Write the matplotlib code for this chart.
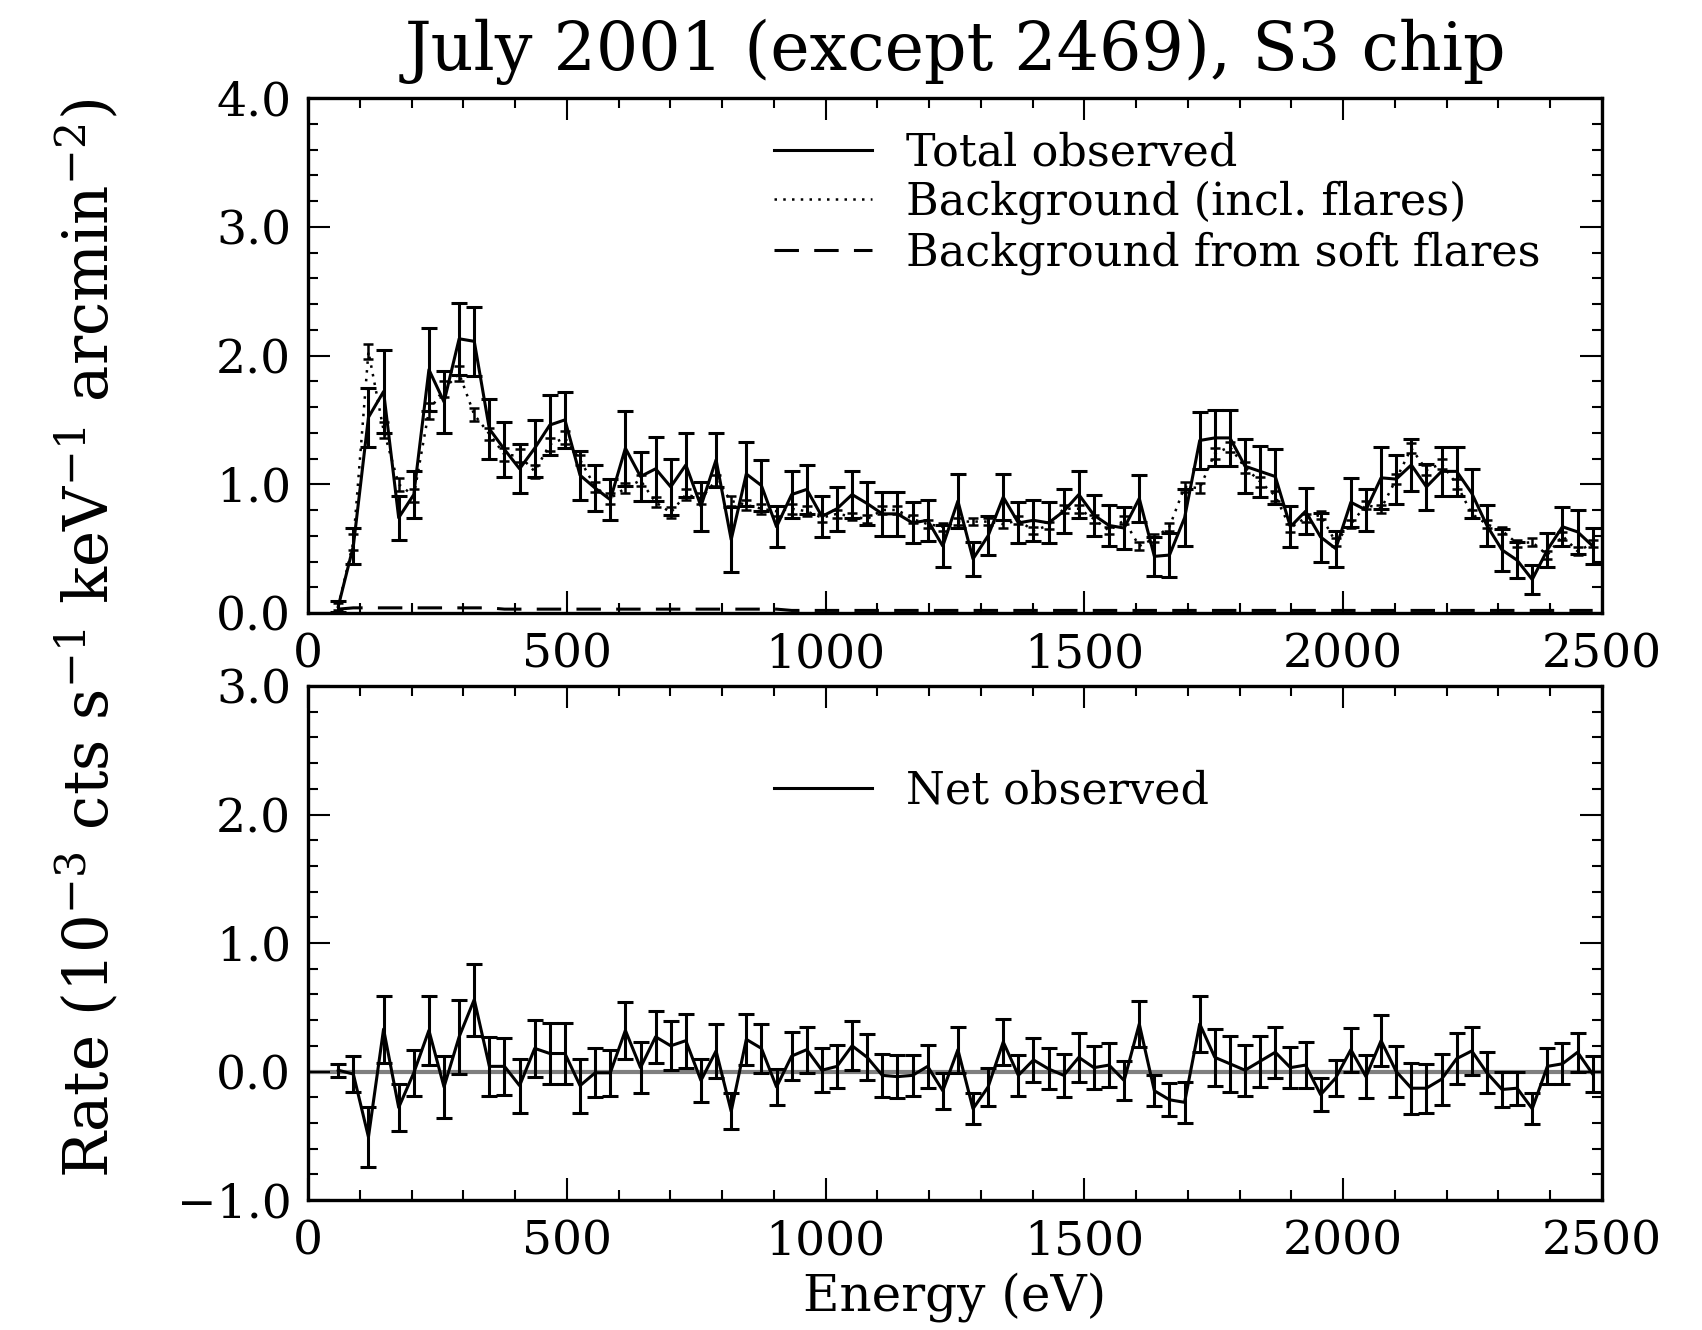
import matplotlib
matplotlib.use("Agg")
import matplotlib.pyplot as plt
from matplotlib.lines import Line2D
from matplotlib.ticker import MultipleLocator, FuncFormatter

plt.rcParams['font.family'] = ['DejaVu Serif']
plt.rcParams['mathtext.fontset'] = 'dejavuserif'

energy = [58.4, 87.6, 116.8, 146.0, 175.2, 204.4, 233.6, 262.8, 292.0, 321.2,
          350.4, 379.6, 408.8, 438.0, 467.2, 496.4, 525.6, 554.8, 584.0, 613.2,
          642.4, 671.6, 700.8, 730.0, 759.2, 788.4, 817.6, 846.8, 876.0, 905.2,
          934.4, 963.6, 992.8, 1022.0, 1051.2, 1080.4, 1109.6, 1138.8, 1168.0, 1197.2,
          1226.4, 1255.6, 1284.8, 1314.0, 1343.2, 1372.4, 1401.6, 1430.8, 1460.0, 1489.2,
          1518.4, 1547.6, 1576.8, 1606.0, 1635.2, 1664.4, 1693.6, 1722.8, 1752.0, 1781.2,
          1810.4, 1839.6, 1868.8, 1898.0, 1927.2, 1956.4, 1985.6, 2014.8, 2044.0, 2073.2,
          2102.4, 2131.6, 2160.8, 2190.0, 2219.2, 2248.4, 2277.6, 2306.8, 2336.0, 2365.2,
          2394.4, 2423.6, 2452.8, 2482.0]

total = [0.05, 0.52, 1.52, 1.72, 0.74, 0.92, 1.89, 1.64, 2.13, 2.11,
         1.43, 1.27, 1.12, 1.28, 1.46, 1.50, 1.07, 0.97, 0.88, 1.28,
         1.06, 1.12, 0.98, 1.15, 0.83, 1.19, 0.57, 1.08, 0.99, 0.67,
         0.92, 0.96, 0.75, 0.81, 0.92, 0.85, 0.77, 0.77, 0.70, 0.72,
         0.52, 0.87, 0.42, 0.60, 0.90, 0.70, 0.72, 0.70, 0.79, 0.92,
         0.76, 0.68, 0.66, 0.89, 0.44, 0.45, 0.74, 1.34, 1.36, 1.36,
         1.14, 1.10, 1.06, 0.67, 0.79, 0.59, 0.50, 0.86, 0.80, 1.05,
         1.04, 1.15, 0.98, 1.10, 1.10, 0.93, 0.68, 0.49, 0.41, 0.26,
         0.49, 0.67, 0.63, 0.52]

total_err = [0.04, 0.14, 0.23, 0.32, 0.17, 0.18, 0.32, 0.24, 0.28, 0.27,
             0.23, 0.21, 0.19, 0.22, 0.23, 0.22, 0.19, 0.18, 0.16, 0.29,
             0.19, 0.25, 0.22, 0.25, 0.19, 0.21, 0.25, 0.25, 0.20, 0.16,
             0.18, 0.19, 0.16, 0.17, 0.18, 0.17, 0.17, 0.17, 0.16, 0.16,
             0.16, 0.21, 0.13, 0.15, 0.18, 0.16, 0.16, 0.16, 0.17, 0.18,
             0.16, 0.16, 0.16, 0.18, 0.15, 0.17, 0.22, 0.22, 0.22, 0.22,
             0.21, 0.20, 0.21, 0.16, 0.18, 0.19, 0.14, 0.19, 0.16, 0.24,
             0.19, 0.20, 0.18, 0.19, 0.19, 0.19, 0.16, 0.16, 0.14, 0.11,
             0.13, 0.15, 0.17, 0.14]

background = [0.05, 0.55, 2.03, 1.42, 1.00, 0.91, 1.57, 1.74, 1.86, 1.54,
              1.39, 1.23, 1.22, 1.10, 1.31, 1.36, 1.19, 0.98, 0.89, 0.97,
              1.03, 0.86, 0.78, 0.92, 0.89, 1.03, 0.87, 0.84, 0.81, 0.79,
              0.81, 0.79, 0.74, 0.77, 0.75, 0.73, 0.80, 0.80, 0.73, 0.69,
              0.67, 0.71, 0.71, 0.71, 0.69, 0.72, 0.64, 0.68, 0.81, 0.81,
              0.73, 0.64, 0.72, 0.52, 0.58, 0.67, 0.98, 0.97, 1.24, 1.29,
              1.13, 1.02, 0.91, 0.66, 0.74, 0.76, 0.55, 0.69, 0.84, 0.81,
              1.04, 1.28, 1.11, 1.16, 1.00, 0.77, 0.69, 0.64, 0.54, 0.55,
              0.45, 0.60, 0.48, 0.54]

background_err = [0.03, 0.06, 0.06, 0.06, 0.05, 0.05, 0.06, 0.06, 0.06, 0.05,
                  0.05, 0.05, 0.05, 0.05, 0.05, 0.05, 0.04, 0.04, 0.04, 0.04,
                  0.04, 0.04, 0.04, 0.04, 0.04, 0.04, 0.04, 0.04, 0.04, 0.04,
                  0.04, 0.04, 0.03, 0.03, 0.03, 0.03, 0.03, 0.03, 0.03, 0.03,
                  0.03, 0.03, 0.03, 0.03, 0.03, 0.03, 0.03, 0.03, 0.03, 0.03,
                  0.03, 0.03, 0.03, 0.03, 0.03, 0.03, 0.04, 0.04, 0.04, 0.04,
                  0.04, 0.04, 0.04, 0.03, 0.03, 0.03, 0.03, 0.03, 0.03, 0.03,
                  0.04, 0.04, 0.04, 0.04, 0.04, 0.03, 0.03, 0.03, 0.03, 0.03,
                  0.03, 0.03, 0.03, 0.03]

soft_flares = [0.03, 0.04, 0.04, 0.04, 0.04, 0.04, 0.04, 0.04, 0.04, 0.04,
               0.04, 0.03, 0.03, 0.03, 0.03, 0.03, 0.03, 0.03, 0.03, 0.03,
               0.03, 0.03, 0.03, 0.03, 0.03, 0.03, 0.03, 0.03, 0.03, 0.03,
               0.02, 0.02, 0.02, 0.02, 0.02, 0.02, 0.02, 0.02, 0.02, 0.02,
               0.02, 0.02, 0.02, 0.02, 0.02, 0.02, 0.02, 0.02, 0.02, 0.02,
               0.02, 0.02, 0.02, 0.02, 0.02, 0.02, 0.02, 0.02, 0.02, 0.02,
               0.02, 0.02, 0.02, 0.02, 0.02, 0.02, 0.02, 0.02, 0.02, 0.02,
               0.02, 0.02, 0.02, 0.02, 0.02, 0.02, 0.02, 0.02, 0.02, 0.02,
               0.02, 0.02, 0.02, 0.02]

net = [0.01, -0.02, -0.51, 0.33, -0.28, -0.01, 0.32, -0.12, 0.27, 0.56,
       0.04, 0.04, -0.11, 0.18, 0.14, 0.14, -0.11, -0.01, -0.01, 0.32,
       0.03, 0.27, 0.20, 0.24, -0.07, 0.16, -0.31, 0.25, 0.18, -0.12,
       0.12, 0.17, 0.01, 0.04, 0.20, 0.11, -0.03, -0.04, -0.03, 0.04,
       -0.15, 0.17, -0.29, -0.12, 0.23, -0.03, 0.09, 0.02, -0.03, 0.11,
       0.03, 0.05, -0.07, 0.37, -0.15, -0.22, -0.24, 0.37, 0.11, 0.06,
       0.01, 0.08, 0.15, 0.03, 0.05, -0.18, -0.05, 0.17, -0.04, 0.24,
       0.00, -0.13, -0.13, -0.06, 0.10, 0.16, -0.01, -0.14, -0.13, -0.29,
       0.04, 0.06, 0.15, -0.02]

net_err = [0.05, 0.14, 0.23, 0.26, 0.18, 0.18, 0.27, 0.24, 0.29, 0.28,
           0.23, 0.22, 0.21, 0.22, 0.24, 0.24, 0.21, 0.19, 0.18, 0.22,
           0.20, 0.20, 0.19, 0.21, 0.17, 0.21, 0.14, 0.20, 0.19, 0.14,
           0.19, 0.18, 0.17, 0.17, 0.19, 0.18, 0.17, 0.17, 0.16, 0.17,
           0.14, 0.18, 0.12, 0.15, 0.18, 0.16, 0.17, 0.16, 0.17, 0.19,
           0.17, 0.17, 0.15, 0.18, 0.12, 0.13, 0.16, 0.22, 0.22, 0.22,
           0.20, 0.20, 0.20, 0.16, 0.18, 0.13, 0.14, 0.17, 0.17, 0.20,
           0.20, 0.20, 0.19, 0.20, 0.20, 0.19, 0.16, 0.14, 0.13, 0.12,
           0.14, 0.16, 0.15, 0.14]

title = "July 2001 (except 2469), S3 chip"
ylabel = r"Rate (10$^{-3}$ cts s$^{-1}$ keV$^{-1}$ arcmin$^{-2}$)"
xlabel = "Energy (eV)"

W, H = 1702, 1330
fig = plt.figure(figsize=(W / 100, H / 100), dpi=100)
L, R = 308, 1602
ax1 = fig.add_axes([L / W, 1 - 613 / H, (R - L) / W, (613 - 98) / H])
ax2 = fig.add_axes([L / W, 1 - 1200 / H, (R - L) / W, (1200 - 686) / H])

lw = 2.2
tick_fs = 34
leg_fs = 32

yfmt = FuncFormatter(lambda v, p: f"{v:.1f}".replace("-", "\u2212"))


def style(ax, ylo, yhi):
    ax.set_xlim(0, 2500)
    ax.set_ylim(ylo, yhi)
    ax.xaxis.set_major_locator(MultipleLocator(500))
    ax.xaxis.set_minor_locator(MultipleLocator(100))
    ax.yaxis.set_major_locator(MultipleLocator(1.0))
    ax.yaxis.set_minor_locator(MultipleLocator(0.2))
    ax.yaxis.set_major_formatter(yfmt)
    ax.tick_params(which='both', direction='in', top=True, right=True,
                   labelsize=tick_fs, width=1.5)
    ax.tick_params(which='major', length=16)
    ax.tick_params(which='minor', length=7)
    ax.tick_params(axis='y', pad=12)
    ax.tick_params(axis='x', pad=14)
    for s in ax.spines.values():
        s.set_linewidth(2.4)


# Top panel
style(ax1, 0, 4.0)
ax1.errorbar(energy, total, yerr=total_err, fmt='-', color='black', lw=lw,
             elinewidth=lw, capsize=5.5, capthick=lw)
ax1.errorbar(energy, background, yerr=background_err, fmt='none', ecolor='black',
             elinewidth=1.8, capsize=3.5, capthick=1.8)
ax1.plot(energy, background, linestyle=(0, (1, 2.5)), color='black', lw=1.8)
ax1.plot(energy, soft_flares, linestyle=(0, (8, 5)), color='black', lw=2.2)

handles1 = [Line2D([], [], color='black', lw=lw, linestyle='-'),
            Line2D([], [], color='black', lw=1.8, linestyle=(0, (1, 2.5))),
            Line2D([], [], color='black', lw=2.2, linestyle=(0, (8, 5)))]
labels1 = ["Total observed", "Background (incl. flares)", "Background from soft flares"]
ax1.legend(handles1, labels1, loc='upper left', bbox_to_anchor=(0.360, 0.936),
           frameon=False, fontsize=leg_fs, handlelength=2.2, handletextpad=0.77,
           labelspacing=0.15, borderpad=0, borderaxespad=0)

# Bottom panel
style(ax2, -1.0, 3.0)
ax2.axhline(0, color='#7f7f7f', lw=3.0, zorder=1)
ax2.errorbar(energy, net, yerr=net_err, fmt='-', color='black', lw=lw,
             elinewidth=lw, capsize=5.5, capthick=lw, zorder=3)
handles2 = [Line2D([], [], color='black', lw=lw, linestyle='-')]
ax2.legend(handles2, ["Net observed"], loc='upper left', bbox_to_anchor=(0.360, 0.837),
           frameon=False, fontsize=leg_fs, handlelength=2.2, handletextpad=0.77,
           borderpad=0, borderaxespad=0)

fig.text((L + R) / 2 / W, 1 - 52 / H, title, ha='center', va='center', fontsize=48)
fig.text((L + R) / 2 / W, 1 - 1297 / H, xlabel, ha='center', va='center', fontsize=36)
fig.text(87 / W, 1 - 638 / H, ylabel, ha='center', va='center', rotation=90, fontsize=44)

fig.savefig("out.png", dpi=100)
